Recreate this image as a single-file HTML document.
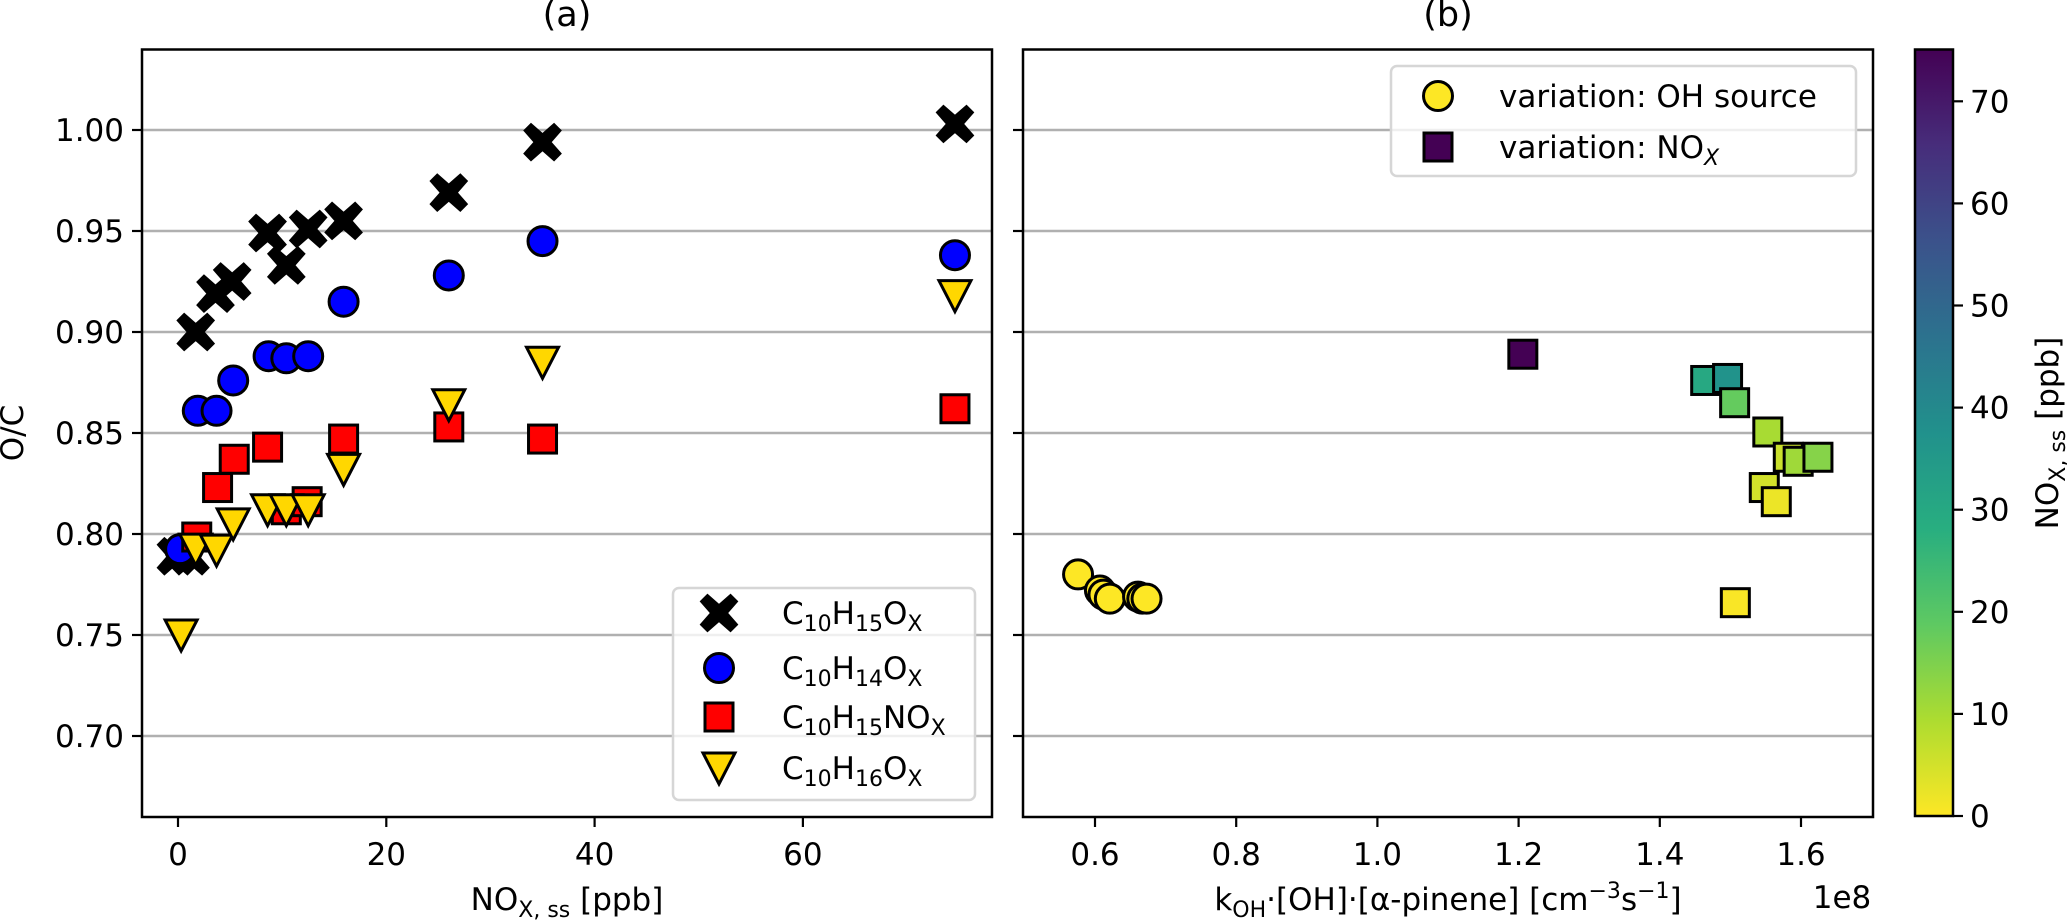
<!DOCTYPE html>
<html><head><meta charset="utf-8"><style>
html,body{margin:0;padding:0;background:#fff}
svg{display:block}
text{font-family:"DejaVu Sans","Liberation Sans",sans-serif;fill:#000}
</style></head><body>
<svg id="fig" width="2067" height="924" viewBox="0 0 2067 924" xmlns="http://www.w3.org/2000/svg">
<defs>
<linearGradient id="vir" x1="0" y1="1" x2="0" y2="0">
<stop offset="0" stop-color="#fde725"/><stop offset="0.125" stop-color="#addc30"/><stop offset="0.25" stop-color="#5ec962"/><stop offset="0.375" stop-color="#28ae80"/><stop offset="0.5" stop-color="#21918c"/><stop offset="0.625" stop-color="#2c728e"/><stop offset="0.75" stop-color="#3b528b"/><stop offset="0.875" stop-color="#472d7b"/><stop offset="1" stop-color="#440154"/>
</linearGradient>
</defs>
<g id="pa"></g>
<g id="pb"></g>
<g id="cb"></g>
</svg>
<script>
// ---- panel (a) data ----
const xC15 = [-0.2, 1.2, 1.7, 3.6, 5.2, 8.6, 10.4, 12.5, 15.9, 26.0, 35.0, 74.6];
const yC15 = [0.789, 0.789, 0.900, 0.919, 0.925, 0.949, 0.933, 0.951, 0.955, 0.969, 0.994, 1.003];
const xC14 = [0.2, 1.9, 3.7, 5.3, 8.7, 10.4, 12.5, 15.9, 26.0, 35.0, 74.6];
const yC14 = [0.7925, 0.861, 0.861, 0.876, 0.888, 0.887, 0.888, 0.915, 0.928, 0.945, 0.938];
const xN15 = [1.8, 3.8, 5.4, 8.6, 10.4, 12.4, 15.9, 26.0, 35.0, 74.6];
const yN15 = [0.7985, 0.823, 0.837, 0.843, 0.812, 0.816, 0.847, 0.853, 0.847, 0.862];
const xC16 = [0.3, 1.7, 3.7, 5.3, 8.6, 10.4, 12.5, 15.9, 26.0, 35.0, 74.6];
const yC16 = [0.750, 0.7925, 0.792, 0.805, 0.812, 0.812, 0.812, 0.832, 0.864, 0.885, 0.918];
const xTicksA = [0, 20, 40, 60];
const yTicks = [0.70, 0.75, 0.80, 0.85, 0.90, 0.95, 1.00];
const yTickLabels = ["0.70","0.75","0.80","0.85","0.90","0.95","1.00"];
// ---- panel (b) data ----
const kOH_OH = [0.576, 0.607, 0.612, 0.621, 0.661, 0.667, 0.673];
const oc_OH = [0.780, 0.772, 0.770, 0.768, 0.769, 0.768, 0.768];
const kOH_NO = [1.206, 1.465, 1.496, 1.506, 1.553, 1.582, 1.596, 1.624, 1.548, 1.565, 1.507];
const oc_NO = [0.889, 0.876, 0.877, 0.865, 0.8505, 0.838, 0.836, 0.838, 0.823, 0.816, 0.766];
const nox_NO = [75, 30, 37, 18, 10, 6, 11, 14, 5, 2, 0.5];
const nox_OH = [0, 0, 0, 0, 0, 0, 0];
const xTicksB = [0.6, 0.8, 1.0, 1.2, 1.4, 1.6];
const xTickLabelsB = ["0.6","0.8","1.0","1.2","1.4","1.6"];
const cbTicks = [0, 10, 20, 30, 40, 50, 60, 70];

const NS = "http://www.w3.org/2000/svg";
function mk(parent, tag, attrs, txt){const e=document.createElementNS(NS,tag);for(const k in attrs)e.setAttribute(k,attrs[k]);if(txt!==undefined)e.textContent=txt;parent.appendChild(e);return e;}
const TOP=49.5, BOT=817;
const ya = v => 130 + (1.00 - v) * 2020;
const xa = v => 178 + v * 10.415;
const xb = v => 1095 + (v - 0.6) * 706;
const cy = v => 816 - v * 10.21;
const VIR=["#440154","#472d7b","#3b528b","#2c728e","#21918c","#28ae80","#5ec962","#addc30","#fde725"].reverse();
function viridis(t){t=Math.max(0,Math.min(1,t));const p=t*8,i=Math.min(7,Math.floor(p)),f=p-i;const a=VIR[i],b=VIR[i+1];const c=k=>Math.round(parseInt(a.substr(k,2),16)*(1-f)+parseInt(b.substr(k,2),16)*f);return `rgb(${c(1)},${c(3)},${c(5)})`;}

function xPath(cx,cy,s){const a=s*0.5,b=s*0.2;return `M${cx-a},${cy-a+b*0.9} L${cx-a+b*0.9},${cy-a} L${cx},${cy-b*1.1} L${cx+a-b*0.9},${cy-a} L${cx+a},${cy-a+b*0.9} L${cx+b*1.1},${cy} L${cx+a},${cy+a-b*0.9} L${cx+a-b*0.9},${cy+a} L${cx},${cy+b*1.1} L${cx-a+b*0.9},${cy+a} L${cx-a},${cy+a-b*0.9} L${cx-b*1.1},${cy} Z`;}
function marker(g,type,cx,cy,fill){
  let e;
  if(type==="x") e=mk(g,"path",{d:xPath(cx,cy,36),fill:"#000",stroke:"#000","stroke-width":2});
  else if(type==="o") e=mk(g,"circle",{cx:cx,cy:cy,r:14.5,fill:fill,stroke:"#000","stroke-width":3});
  else if(type==="s") e=mk(g,"rect",{x:cx-14,y:cy-14,width:28,height:28,fill:fill,stroke:"#000","stroke-width":3});
  else e=mk(g,"path",{d:`M${cx-16},${cy-15} L${cx+16},${cy-15} L${cx},${cy+16} Z`,fill:fill,stroke:"#000","stroke-width":3,"stroke-linejoin":"miter"});
  return e;
}
function subText(g,x,y,parts,anchor,extra){
  const t=mk(g,"text",Object.assign({x:x,y:y,"font-size":31,"text-anchor":anchor||"start"},extra||{}));
  parts.forEach(p=>{const s=mk(t,"tspan",p[1]?{"font-size":22,dy:7}:{dy:0},p[0]);if(p[1]){const r=mk(t,"tspan",{dy:-7},"\u200b");}});
  return t;
}
function axesFrame(g,L,R){
  yTicks.forEach((v,i)=>{
    const gl=mk(g,"line",{x1:L,x2:R,y1:ya(v),y2:ya(v),stroke:"#b0b0b0","stroke-width":2.5});
    
    
    mk(g,"line",{x1:L-10,x2:L,y1:ya(v),y2:ya(v),stroke:"#000","stroke-width":2.2});
  });
}

// ---- Panel A ----
const A=document.getElementById("pa");
axesFrame(A,142,992);
yTicks.forEach((v,i)=>{const t=mk(A,"text",{x:124,y:ya(v)+11,"font-size":31,"text-anchor":"end"},yTickLabels[i]);});
xTicksA.forEach(v=>{mk(A,"line",{x1:xa(v),x2:xa(v),y1:BOT,y2:BOT+10,stroke:"#000","stroke-width":2.2});const t=mk(A,"text",{x:xa(v),y:865,"font-size":31,"text-anchor":"middle"},String(v));});
const sA=mk(A,"g",{});

xC15.forEach((x,i)=>{const m=marker(sA,"x",xa(x),ya(yC15[i]));});
const sB=mk(A,"g",{});

xC14.forEach((x,i)=>{const m=marker(sB,"o",xa(x),ya(yC14[i]),"#0000ff");});
const sC=mk(A,"g",{});

xN15.forEach((x,i)=>{const m=marker(sC,"s",xa(x),ya(yN15[i]),"#ff0000");});
const sD=mk(A,"g",{});

xC16.forEach((x,i)=>{const m=marker(sD,"v",xa(x),ya(yC16[i]),"#ffd700");});
// legend a
const LA=mk(A,"g",{});

mk(LA,"rect",{x:673,y:588,width:302,height:212,rx:6,fill:"rgba(255,255,255,0.8)",stroke:"#d6d6d6","stroke-width":2.5});
const legRows=[["x","#000",[["C"],["10",1],["H"],["15",1],["O"],["X",1]]],["o","#0000ff",[["C"],["10",1],["H"],["14",1],["O"],["X",1]]],["s","#ff0000",[["C"],["10",1],["H"],["15",1],["NO"],["X",1]]],["v","#ffd700",[["C"],["10",1],["H"],["16",1],["O"],["X",1]]]];
const legY=[613,668,717,768];
legRows.forEach((r,i)=>{marker(LA,r[0],719,legY[i],r[1]);const t=subText(LA,782,legY[i]+11,r[2]);});
mk(A,"rect",{x:142,y:TOP,width:850,height:BOT-TOP,fill:"none",stroke:"#000","stroke-width":2.5});
const ta=mk(A,"text",{x:567,y:26,"font-size":35,"text-anchor":"middle"},"(a)");
const yl=mk(A,"text",{x:0,y:0,"font-size":31,"text-anchor":"middle",transform:"translate(23,433) rotate(-90)"},"O/C");
const xla=subText(A,567,910,[["NO"],["X, ss",1],[" [ppb]"]],"middle");

// ---- Panel B ----
const B=document.getElementById("pb");
axesFrame(B,1023,1873);
xTicksB.forEach((v,i)=>{mk(B,"line",{x1:xb(v),x2:xb(v),y1:BOT,y2:BOT+10,stroke:"#000","stroke-width":2.2});const t=mk(B,"text",{x:xb(v),y:865,"font-size":31,"text-anchor":"middle"},xTickLabelsB[i]);});
const gOH=mk(B,"g",{});

kOH_OH.forEach((x,i)=>{const m=marker(gOH,"o",xb(x),ya(oc_OH[i]),viridis(nox_OH[i]/75));});
const gNO=mk(B,"g",{});

kOH_NO.forEach((x,i)=>{const m=marker(gNO,"s",xb(x),ya(oc_NO[i]),viridis(nox_NO[i]/75));});
const LB=mk(B,"g",{});

mk(LB,"rect",{x:1391,y:66,width:465,height:110,rx:6,fill:"rgba(255,255,255,0.8)",stroke:"#d6d6d6","stroke-width":2.5});
marker(LB,"o",1438,96,"#fde725");marker(LB,"s",1438,147,"#440154");
const l1=mk(LB,"text",{x:1499,y:107,"font-size":31},"variation: OH source");
const l2=mk(LB,"text",{x:1499,y:158,"font-size":31},"variation: NO");
mk(l2,"tspan",{"font-size":22,dy:7,"font-style":"italic"},"X");
mk(B,"rect",{x:1023,y:TOP,width:850,height:BOT-TOP,fill:"none",stroke:"#000","stroke-width":2.5});
const tb=mk(B,"text",{x:1448,y:26,"font-size":35,"text-anchor":"middle"},"(b)");
const xlb=subText(B,1448,910,[["k"],["OH",1],["·[OH]·[α-pinene] [cm"]],"middle");
mk(xlb,"tspan",{"font-size":22,dy:-12},"−3");mk(xlb,"tspan",{dy:12},"s");mk(xlb,"tspan",{"font-size":22,dy:-12},"−1");mk(xlb,"tspan",{dy:12},"]");

const off=mk(B,"text",{x:1842,y:908,"font-size":31,"text-anchor":"middle"},"1e8");

// ---- Colorbar ----
const C=document.getElementById("cb");
mk(C,"rect",{x:1915,y:TOP,width:38,height:816-TOP,fill:"url(#vir)",stroke:"#000","stroke-width":2.5});
cbTicks.forEach(v=>{mk(C,"line",{x1:1953,x2:1963,y1:cy(v),y2:cy(v),stroke:"#000","stroke-width":2.2});const t=mk(C,"text",{x:1970,y:cy(v)+11,"font-size":31},String(v));});
const cl=subText(C,0,0,[["NO"],["X, ss",1],[" [ppb]"]],"middle",{transform:"translate(2058,433) rotate(-90)"});

</script>
</body></html>
